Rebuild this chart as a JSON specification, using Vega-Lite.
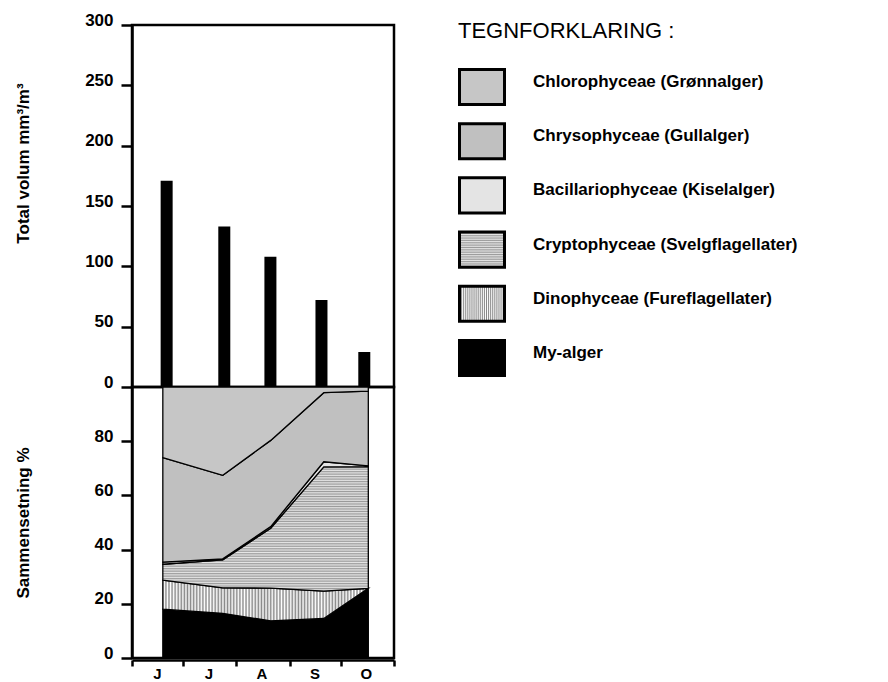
{
  "$schema": "https://vega.github.io/schema/vega-lite/v6.json",
  "background": "white",
  "padding": {"left": 12, "top": 9, "right": 5, "bottom": 2},
  "bounds": "flush",
  "spacing": 0,
  "config": {
    "font": "Liberation Sans",
    "view": {"stroke": "black", "strokeWidth": 2.5},
    "axis": {
      "domainColor": "black", "domainWidth": 2.5, "tickColor": "black", "tickWidth": 2.5,
      "grid": false, "labelFont": "Liberation Sans", "labelFontWeight": "bold", "labelFontSize": 17,
      "labelColor": "black", "titleFont": "Liberation Sans", "titleFontWeight": "bold",
      "titleFontSize": 17, "titleColor": "black"
    }
  },
  "datasets": {
    "volume": [
      {"date": "1990-06-19", "volume": 171},
      {"date": "1990-07-24", "volume": 133},
      {"date": "1990-08-21", "volume": 108},
      {"date": "1990-09-21", "volume": 72},
      {"date": "1990-10-17", "volume": 29}
    ],
    "composition": [
      {"group": "My-alger", "date": "1990-06-19", "lo": 0, "hi": 18.0},
      {"group": "My-alger", "date": "1990-07-24", "lo": 0, "hi": 16.5},
      {"group": "My-alger", "date": "1990-08-21", "lo": 0, "hi": 13.7},
      {"group": "My-alger", "date": "1990-09-21", "lo": 0, "hi": 14.6},
      {"group": "My-alger", "date": "1990-10-17", "lo": 0, "hi": 25.7},
      {"group": "Dinophyceae (Fureflagellater)", "date": "1990-06-19", "lo": 18.0, "hi": 28.7},
      {"group": "Dinophyceae (Fureflagellater)", "date": "1990-07-24", "lo": 16.5, "hi": 25.9},
      {"group": "Dinophyceae (Fureflagellater)", "date": "1990-08-21", "lo": 13.7, "hi": 25.8},
      {"group": "Dinophyceae (Fureflagellater)", "date": "1990-09-21", "lo": 14.6, "hi": 24.7},
      {"group": "Dinophyceae (Fureflagellater)", "date": "1990-10-17", "lo": 25.7, "hi": 25.7},
      {"group": "Cryptophyceae (Svelgflagellater)", "date": "1990-06-19", "lo": 28.7, "hi": 34.6},
      {"group": "Cryptophyceae (Svelgflagellater)", "date": "1990-07-24", "lo": 25.9, "hi": 36.2},
      {"group": "Cryptophyceae (Svelgflagellater)", "date": "1990-08-21", "lo": 25.8, "hi": 47.9},
      {"group": "Cryptophyceae (Svelgflagellater)", "date": "1990-09-21", "lo": 24.7, "hi": 70.5},
      {"group": "Cryptophyceae (Svelgflagellater)", "date": "1990-10-17", "lo": 25.7, "hi": 70.6},
      {"group": "Bacillariophyceae (Kiselalger)", "date": "1990-06-19", "lo": 34.6, "hi": 35.4},
      {"group": "Bacillariophyceae (Kiselalger)", "date": "1990-07-24", "lo": 36.2, "hi": 36.6},
      {"group": "Bacillariophyceae (Kiselalger)", "date": "1990-08-21", "lo": 47.9, "hi": 48.5},
      {"group": "Bacillariophyceae (Kiselalger)", "date": "1990-09-21", "lo": 70.5, "hi": 72.4},
      {"group": "Bacillariophyceae (Kiselalger)", "date": "1990-10-17", "lo": 70.6, "hi": 70.9},
      {"group": "Chrysophyceae (Gullalger)", "date": "1990-06-19", "lo": 35.4, "hi": 73.9},
      {"group": "Chrysophyceae (Gullalger)", "date": "1990-07-24", "lo": 36.6, "hi": 67.4},
      {"group": "Chrysophyceae (Gullalger)", "date": "1990-08-21", "lo": 48.5, "hi": 80.3},
      {"group": "Chrysophyceae (Gullalger)", "date": "1990-09-21", "lo": 72.4, "hi": 97.9},
      {"group": "Chrysophyceae (Gullalger)", "date": "1990-10-17", "lo": 70.9, "hi": 98.5},
      {"group": "Chlorophyceae (Grønnalger)", "date": "1990-06-19", "lo": 73.9, "hi": 100},
      {"group": "Chlorophyceae (Grønnalger)", "date": "1990-07-24", "lo": 67.4, "hi": 100},
      {"group": "Chlorophyceae (Grønnalger)", "date": "1990-08-21", "lo": 80.3, "hi": 100},
      {"group": "Chlorophyceae (Grønnalger)", "date": "1990-09-21", "lo": 97.9, "hi": 100},
      {"group": "Chlorophyceae (Grønnalger)", "date": "1990-10-17", "lo": 98.5, "hi": 100}
    ]
  },
  "vconcat": [
    {
      "width": 262,
      "height": 362,
      "data": {"name": "volume"},
      "mark": {"type": "bar", "color": "black", "size": 12},
      "encoding": {
        "x": {
          "field": "date", "type": "temporal",
          "scale": {"type": "utc", "domain": [{"year": 1990, "month": 6, "date": 1, "utc": true}, {"year": 1990, "month": 11, "date": 1, "utc": true}]},
          "axis": null
        },
        "y": {
          "field": "volume", "type": "quantitative",
          "scale": {"domain": [0, 300], "nice": false},
          "axis": {
            "title": "Total volum mm³/m³", "values": [0, 50, 100, 150, 200, 250, 300],
            "tickSize": 11, "labelPadding": 8, "labelBaseline": "alphabetic",
            "titleX": -109, "titleY": 138, "titleBaseline": "middle"
          }
        }
      }
    },
    {
      "width": 262,
      "height": 271,
      "data": {"name": "composition"},
      "mark": {"type": "area", "stroke": "black", "strokeWidth": 1.3, "interpolate": "linear", "opacity": 1},
      "encoding": {
        "x": {
          "field": "date", "type": "temporal",
          "scale": {"type": "utc", "domain": [{"year": 1990, "month": 6, "date": 1, "utc": true}, {"year": 1990, "month": 11, "date": 1, "utc": true}]},
          "axis": {
            "title": null, "offset": 2, "tickSize": 6, "labelPadding": 0, "labelOffset": 25,
            "labelFontSize": 15,
            "values": [
              {"year": 1990, "month": 6, "date": 1, "utc": true},
              {"year": 1990, "month": 7, "date": 1, "utc": true},
              {"year": 1990, "month": 8, "date": 1, "utc": true},
              {"year": 1990, "month": 9, "date": 1, "utc": true},
              {"year": 1990, "month": 10, "date": 1, "utc": true},
              {"year": 1990, "month": 11, "date": 1, "utc": true}
            ],
            "labelExpr": "['J','F','M','A','M','J','J','A','S','O','',''][utcmonth(datum.value)]",
            "labelAlign": "center", "labelBaseline": "top"
          }
        },
        "y": {
          "field": "lo", "type": "quantitative",
          "scale": {"domain": [0, 100], "nice": false},
          "axis": {
            "title": "Sammensetning %", "values": [0, 20, 40, 60, 80],
            "tickSize": 11, "labelPadding": 8, "labelBaseline": "alphabetic",
            "titleX": -109, "titleBaseline": "middle"
          }
        },
        "y2": {"field": "hi"},
        "color": {
          "field": "group", "type": "nominal",
          "scale": {
            "domain": [
              "Chlorophyceae (Grønnalger)",
              "Chrysophyceae (Gullalger)",
              "Bacillariophyceae (Kiselalger)",
              "Cryptophyceae (Svelgflagellater)",
              "Dinophyceae (Fureflagellater)",
              "My-alger"
            ],
            "range": [
              "#c6c6c6",
              "#c0c0c0",
              "#e4e4e4",
              {"expr": "{gradient: 'linear', x1: 0, y1: 0, x2: 0, y2: 1, stops: [{offset: 0, color: '#9a9a9a'}, {offset: 0.01, color: '#e6e6e6'}, {offset: 0.02, color: '#9a9a9a'}, {offset: 0.03, color: '#e6e6e6'}, {offset: 0.04, color: '#9a9a9a'}, {offset: 0.05, color: '#e6e6e6'}, {offset: 0.06, color: '#9a9a9a'}, {offset: 0.07, color: '#e6e6e6'}, {offset: 0.08, color: '#9a9a9a'}, {offset: 0.09, color: '#e6e6e6'}, {offset: 0.1, color: '#9a9a9a'}, {offset: 0.11, color: '#e6e6e6'}, {offset: 0.12, color: '#9a9a9a'}, {offset: 0.13, color: '#e6e6e6'}, {offset: 0.14, color: '#9a9a9a'}, {offset: 0.15, color: '#e6e6e6'}, {offset: 0.16, color: '#9a9a9a'}, {offset: 0.17, color: '#e6e6e6'}, {offset: 0.18, color: '#9a9a9a'}, {offset: 0.19, color: '#e6e6e6'}, {offset: 0.2, color: '#9a9a9a'}, {offset: 0.21, color: '#e6e6e6'}, {offset: 0.22, color: '#9a9a9a'}, {offset: 0.23, color: '#e6e6e6'}, {offset: 0.24, color: '#9a9a9a'}, {offset: 0.25, color: '#e6e6e6'}, {offset: 0.26, color: '#9a9a9a'}, {offset: 0.27, color: '#e6e6e6'}, {offset: 0.28, color: '#9a9a9a'}, {offset: 0.29, color: '#e6e6e6'}, {offset: 0.3, color: '#9a9a9a'}, {offset: 0.31, color: '#e6e6e6'}, {offset: 0.32, color: '#9a9a9a'}, {offset: 0.33, color: '#e6e6e6'}, {offset: 0.34, color: '#9a9a9a'}, {offset: 0.35, color: '#e6e6e6'}, {offset: 0.36, color: '#9a9a9a'}, {offset: 0.37, color: '#e6e6e6'}, {offset: 0.38, color: '#9a9a9a'}, {offset: 0.39, color: '#e6e6e6'}, {offset: 0.4, color: '#9a9a9a'}, {offset: 0.41, color: '#e6e6e6'}, {offset: 0.42, color: '#9a9a9a'}, {offset: 0.43, color: '#e6e6e6'}, {offset: 0.44, color: '#9a9a9a'}, {offset: 0.45, color: '#e6e6e6'}, {offset: 0.46, color: '#9a9a9a'}, {offset: 0.47, color: '#e6e6e6'}, {offset: 0.48, color: '#9a9a9a'}, {offset: 0.49, color: '#e6e6e6'}, {offset: 0.5, color: '#9a9a9a'}, {offset: 0.51, color: '#e6e6e6'}, {offset: 0.52, color: '#9a9a9a'}, {offset: 0.53, color: '#e6e6e6'}, {offset: 0.54, color: '#9a9a9a'}, {offset: 0.55, color: '#e6e6e6'}, {offset: 0.56, color: '#9a9a9a'}, {offset: 0.57, color: '#e6e6e6'}, {offset: 0.58, color: '#9a9a9a'}, {offset: 0.59, color: '#e6e6e6'}, {offset: 0.6, color: '#9a9a9a'}, {offset: 0.61, color: '#e6e6e6'}, {offset: 0.62, color: '#9a9a9a'}, {offset: 0.63, color: '#e6e6e6'}, {offset: 0.64, color: '#9a9a9a'}, {offset: 0.65, color: '#e6e6e6'}, {offset: 0.66, color: '#9a9a9a'}, {offset: 0.67, color: '#e6e6e6'}, {offset: 0.68, color: '#9a9a9a'}, {offset: 0.69, color: '#e6e6e6'}, {offset: 0.7, color: '#9a9a9a'}, {offset: 0.71, color: '#e6e6e6'}, {offset: 0.72, color: '#9a9a9a'}, {offset: 0.73, color: '#e6e6e6'}, {offset: 0.74, color: '#9a9a9a'}, {offset: 0.75, color: '#e6e6e6'}, {offset: 0.76, color: '#9a9a9a'}, {offset: 0.77, color: '#e6e6e6'}, {offset: 0.78, color: '#9a9a9a'}, {offset: 0.79, color: '#e6e6e6'}, {offset: 0.8, color: '#9a9a9a'}, {offset: 0.81, color: '#e6e6e6'}, {offset: 0.82, color: '#9a9a9a'}, {offset: 0.83, color: '#e6e6e6'}, {offset: 0.84, color: '#9a9a9a'}, {offset: 0.85, color: '#e6e6e6'}, {offset: 0.86, color: '#9a9a9a'}, {offset: 0.87, color: '#e6e6e6'}, {offset: 0.88, color: '#9a9a9a'}, {offset: 0.89, color: '#e6e6e6'}, {offset: 0.9, color: '#9a9a9a'}, {offset: 0.91, color: '#e6e6e6'}, {offset: 0.92, color: '#9a9a9a'}, {offset: 0.93, color: '#e6e6e6'}, {offset: 0.94, color: '#9a9a9a'}, {offset: 0.95, color: '#e6e6e6'}, {offset: 0.96, color: '#9a9a9a'}, {offset: 0.97, color: '#e6e6e6'}, {offset: 0.98, color: '#9a9a9a'}, {offset: 0.99, color: '#e6e6e6'}, {offset: 1, color: '#9a9a9a'}]}"},
              {"expr": "{gradient: 'linear', x1: 0, y1: 0, x2: 1, y2: 0, stops: [{offset: 0, color: '#888'}, {offset: 0.0075, color: '#fff'}, {offset: 0.015, color: '#888'}, {offset: 0.0225, color: '#fff'}, {offset: 0.03, color: '#888'}, {offset: 0.0375, color: '#fff'}, {offset: 0.045, color: '#888'}, {offset: 0.0525, color: '#fff'}, {offset: 0.06, color: '#888'}, {offset: 0.0675, color: '#fff'}, {offset: 0.075, color: '#888'}, {offset: 0.0825, color: '#fff'}, {offset: 0.09, color: '#888'}, {offset: 0.0975, color: '#fff'}, {offset: 0.105, color: '#888'}, {offset: 0.1125, color: '#fff'}, {offset: 0.12, color: '#888'}, {offset: 0.1275, color: '#fff'}, {offset: 0.135, color: '#888'}, {offset: 0.1425, color: '#fff'}, {offset: 0.15, color: '#888'}, {offset: 0.1575, color: '#fff'}, {offset: 0.165, color: '#888'}, {offset: 0.1725, color: '#fff'}, {offset: 0.18, color: '#888'}, {offset: 0.1875, color: '#fff'}, {offset: 0.195, color: '#888'}, {offset: 0.2025, color: '#fff'}, {offset: 0.21, color: '#888'}, {offset: 0.2175, color: '#fff'}, {offset: 0.225, color: '#888'}, {offset: 0.2325, color: '#fff'}, {offset: 0.24, color: '#888'}, {offset: 0.2475, color: '#fff'}, {offset: 0.255, color: '#888'}, {offset: 0.2625, color: '#fff'}, {offset: 0.27, color: '#888'}, {offset: 0.2775, color: '#fff'}, {offset: 0.285, color: '#888'}, {offset: 0.2925, color: '#fff'}, {offset: 0.3, color: '#888'}, {offset: 0.3075, color: '#fff'}, {offset: 0.315, color: '#888'}, {offset: 0.3225, color: '#fff'}, {offset: 0.33, color: '#888'}, {offset: 0.3375, color: '#fff'}, {offset: 0.345, color: '#888'}, {offset: 0.3525, color: '#fff'}, {offset: 0.36, color: '#888'}, {offset: 0.3675, color: '#fff'}, {offset: 0.375, color: '#888'}, {offset: 0.3825, color: '#fff'}, {offset: 0.39, color: '#888'}, {offset: 0.3975, color: '#fff'}, {offset: 0.405, color: '#888'}, {offset: 0.4125, color: '#fff'}, {offset: 0.42, color: '#888'}, {offset: 0.4275, color: '#fff'}, {offset: 0.435, color: '#888'}, {offset: 0.4425, color: '#fff'}, {offset: 0.45, color: '#888'}, {offset: 0.4575, color: '#fff'}, {offset: 0.465, color: '#888'}, {offset: 0.4725, color: '#fff'}, {offset: 0.48, color: '#888'}, {offset: 0.4875, color: '#fff'}, {offset: 0.495, color: '#888'}, {offset: 0.5025, color: '#fff'}, {offset: 0.51, color: '#888'}, {offset: 0.5175, color: '#fff'}, {offset: 0.525, color: '#888'}, {offset: 0.5325, color: '#fff'}, {offset: 0.54, color: '#888'}, {offset: 0.5475, color: '#fff'}, {offset: 0.555, color: '#888'}, {offset: 0.5625, color: '#fff'}, {offset: 0.57, color: '#888'}, {offset: 0.5775, color: '#fff'}, {offset: 0.585, color: '#888'}, {offset: 0.5925, color: '#fff'}, {offset: 0.6, color: '#888'}, {offset: 0.6075, color: '#fff'}, {offset: 0.615, color: '#888'}, {offset: 0.6225, color: '#fff'}, {offset: 0.63, color: '#888'}, {offset: 0.6375, color: '#fff'}, {offset: 0.645, color: '#888'}, {offset: 0.6525, color: '#fff'}, {offset: 0.66, color: '#888'}, {offset: 0.6675, color: '#fff'}, {offset: 0.675, color: '#888'}, {offset: 0.6825, color: '#fff'}, {offset: 0.69, color: '#888'}, {offset: 0.6975, color: '#fff'}, {offset: 0.705, color: '#888'}, {offset: 0.7125, color: '#fff'}, {offset: 0.72, color: '#888'}, {offset: 0.7275, color: '#fff'}, {offset: 0.735, color: '#888'}, {offset: 0.7425, color: '#fff'}, {offset: 0.75, color: '#888'}, {offset: 0.7575, color: '#fff'}, {offset: 0.765, color: '#888'}, {offset: 0.7725, color: '#fff'}, {offset: 0.78, color: '#888'}, {offset: 0.7875, color: '#fff'}, {offset: 0.795, color: '#888'}, {offset: 0.8025, color: '#fff'}, {offset: 0.81, color: '#888'}, {offset: 0.8175, color: '#fff'}, {offset: 0.825, color: '#888'}, {offset: 0.8325, color: '#fff'}, {offset: 0.84, color: '#888'}, {offset: 0.8475, color: '#fff'}, {offset: 0.855, color: '#888'}, {offset: 0.8625, color: '#fff'}, {offset: 0.87, color: '#888'}, {offset: 0.8775, color: '#fff'}, {offset: 0.885, color: '#888'}, {offset: 0.8925, color: '#fff'}, {offset: 0.9, color: '#888'}, {offset: 0.9075, color: '#fff'}, {offset: 0.915, color: '#888'}, {offset: 0.9225, color: '#fff'}, {offset: 0.93, color: '#888'}, {offset: 0.9375, color: '#fff'}, {offset: 0.945, color: '#888'}, {offset: 0.9525, color: '#fff'}, {offset: 0.96, color: '#888'}, {offset: 0.9675, color: '#fff'}, {offset: 0.975, color: '#888'}, {offset: 0.9825, color: '#fff'}, {offset: 0.99, color: '#888'}, {offset: 0.9975, color: '#fff'}, {offset: 1, color: '#888'}]}"},
              "#000000"
            ]
          },
          "legend": {
            "orient": "none", "legendX": 326, "legendY": -4,
            "title": "TEGNFORKLARING :", "titleFont": "Liberation Sans", "titleFontSize": 22,
            "titleFontWeight": "normal", "titleColor": "black", "titlePadding": 20, "titleLimit": 500,
            "labelFont": "Liberation Sans", "labelFontSize": 17, "labelFontWeight": "bold",
            "labelColor": "black", "labelOffset": 27, "labelLimit": 500, "labelBaseline": "alphabetic",
            "symbolType": "M-1,-0.78H1V0.78H-1Z", "symbolSize": 2025,
            "symbolStrokeColor": "black", "symbolStrokeWidth": 3, "symbolOpacity": 1,
            "rowPadding": 6.2, "padding": 0
          }
        }
      }
    }
  ]
}
